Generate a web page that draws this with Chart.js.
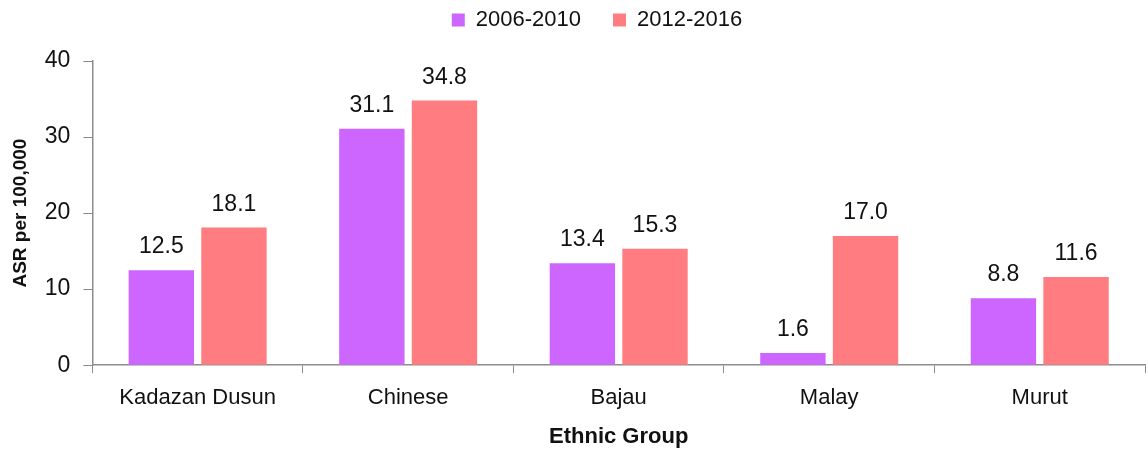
<!DOCTYPE html>
<html>
<head>
<meta charset="utf-8">
<script src="https://cdn.jsdelivr.net/npm/chart.js@4/dist/chart.umd.min.js"></script>
<style>
  html, body { margin: 0; padding: 0; background: #fff; }
  #wrap { width: 1148px; height: 450px; position: relative; }
</style>
</head>
<body>
<div id="wrap"><canvas id="asrChart"></canvas></div>
<script>
const groups = ['Kadazan Dusun', 'Chinese', 'Bajau', 'Malay', 'Murut'];
const asr_2006_2010 = [12.5, 31.1, 13.4, 1.6, 8.8];
const asr_2012_2016 = [18.1, 34.8, 15.3, 17.0, 11.6];
const y_ticks = [0, 10, 20, 30, 40];

const axis_color = '#8c8c8c';
const font_family = "'Liberation Sans', Arial, sans-serif";
const font_size = 22;
const legend_pad = 32;

// draws the value above each bar
const valueLabels = {
  id: 'valueLabels',
  afterDatasetsDraw(chart) {
    let ctx = chart.ctx;
    ctx.save();
    ctx.fillStyle = '#111';
    ctx.font = '23px ' + font_family;
    ctx.textAlign = 'center';
    ctx.textBaseline = 'alphabetic';
    chart.data.datasets.forEach((ds, i) => {
      chart.getDatasetMeta(i).data.forEach((bar, j) => {
        ctx.fillText(ds.data[j].toFixed(1), bar.x, bar.y - 17);
      });
    });
    ctx.restore();
  }
};

// wide gap between legend items, but keep the legend near the top
const legendTweak = {
  id: 'legendTweak',
  beforeInit(chart) {
    const fit = chart.legend.fit;
    chart.legend.fit = function () {
      fit.bind(chart.legend)();
      this.height += 20 - (legend_pad - 9);
    };
  },
  afterLayout(chart) {
    let lg = chart.legend;
    lg.top -= legend_pad - 9;
    lg.bottom -= legend_pad - 9;
    lg.left += 20;
    lg.right += 20;
  }
};

let data = {
  labels: groups,
  datasets: [
    {
      label: '2006-2010',
      data: asr_2006_2010,
      backgroundColor: '#cc66ff',
      categoryPercentage: 0.69,
      barPercentage: 0.9
    },
    {
      label: '2012-2016',
      data: asr_2012_2016,
      backgroundColor: '#ff7c80',
      categoryPercentage: 0.69,
      barPercentage: 0.9
    }
  ]
};

let config = {
  type: 'bar',
  data: data,
  plugins: [valueLabels, legendTweak],
  options: {
    responsive: false,
    animation: false,
    events: [],
    layout: {
      padding: { left: 9, right: 3, top: 0, bottom: 0 }
    },
    plugins: {
      legend: {
        display: true,
        position: 'top',
        labels: {
          color: '#111',
          boxWidth: 13,
          boxHeight: 13,
          padding: legend_pad,
          font: { family: font_family, size: font_size }
        }
      },
      tooltip: { enabled: false }
    },
    scales: {
      x: {
        grid: {
          drawOnChartArea: false,
          drawTicks: true,
          tickLength: 8,
          color: axis_color
        },
        border: { color: axis_color, width: 1.5 },
        ticks: {
          color: '#111',
          padding: 12,
          font: { family: font_family, size: font_size }
        },
        title: {
          display: true,
          text: 'Ethnic Group',
          color: '#111',
          padding: { top: 0, bottom: 0 },
          font: { family: font_family, size: font_size, weight: 'bold' }
        }
      },
      y: {
        min: y_ticks[0],
        max: y_ticks[y_ticks.length - 1],
        afterBuildTicks: (axis) => { axis.ticks = y_ticks.map(v => ({ value: v })); },
        grid: {
          drawOnChartArea: false,
          drawTicks: true,
          tickLength: 9,
          color: axis_color
        },
        border: { color: axis_color, width: 1.5 },
        ticks: {
          color: '#111',
          padding: 13,
          font: { family: font_family, size: 23 }
        },
        title: {
          display: true,
          text: 'ASR per 100,000',
          color: '#111',
          padding: { top: 0, bottom: 0 },
          font: { family: font_family, size: 19, weight: 'bold' }
        }
      }
    }
  }
};

let canvas = document.getElementById('asrChart');
canvas.width = 1148;
canvas.height = 450;
new Chart(canvas.getContext('2d'), config);
</script>
</body>
</html>
